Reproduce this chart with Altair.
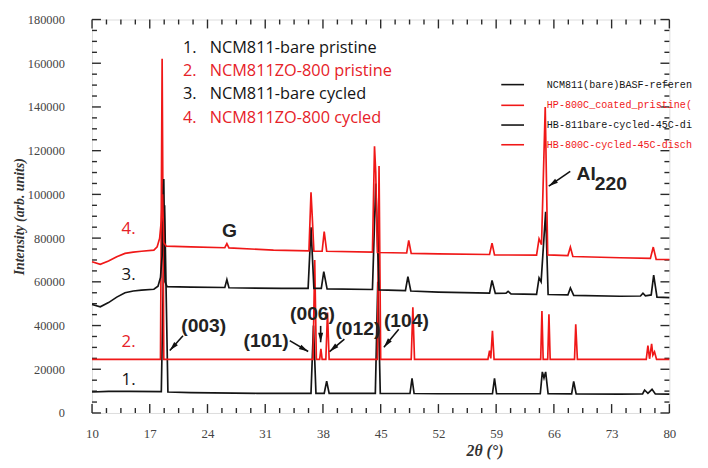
import altair as alt
import pandas as pd

BLACK = "#141414"
RED = "#f01818"
RED_TXT = "#e62128"
FRAME = "#2a2a2a"

x_ticks = [10, 17, 24, 31, 38, 45, 52, 59, 66, 73, 80]
y_ticks = [0, 20000, 40000, 60000, 80000, 100000, 120000, 140000, 160000, 180000]

# 1. NCM811-bare pristine
s1_x = [10, 12, 14.5, 18.4, 18.8, 19.2, 22, 30, 36.55, 36.85, 37.15, 38.15, 38.45, 38.75,
        44.35, 44.65, 44.95, 48.55, 48.8, 49.05, 52, 58.55, 58.8, 59.05, 64.35, 64.6, 64.8,
        65.0, 65.3, 68.15, 68.4, 68.7, 74, 76.75, 77.0, 77.4, 77.9, 78.3, 80]
s1_y = [9600, 9900, 9900, 9800, 95000, 9600, 9300, 9000, 9000, 40000, 9000, 9000, 14500, 9000,
        9000, 60000, 9000, 8900, 15800, 8900, 8800, 8800, 15800, 8800, 8800, 18800, 16000,
        18800, 8800, 8700, 14400, 8700, 8600, 8700, 10500, 9000, 10800, 8700, 8600]

# 2. NCM811ZO-800 pristine
s2_x = [10, 18.3, 18.5, 18.7, 36.8, 37.0, 37.2, 37.6, 37.75, 37.9, 38.35, 38.55, 38.75,
        44.6, 44.8, 45.0, 48.7, 48.9, 49.1, 58.0, 58.2, 58.35, 58.55, 58.75, 64.4, 64.55, 64.7,
        65.25, 65.4, 65.55, 68.5, 68.65, 68.85, 77.2, 77.4, 77.6, 77.85, 78.0, 78.2, 78.45, 80]
s2_y = [24500, 24500, 162000, 24500, 24500, 70000, 24500, 24500, 29300, 24500, 24500, 46000, 24500,
        24500, 113000, 24500, 24500, 48300, 24500, 24500, 28500, 25000, 37600, 24500, 24500, 46600, 24500,
        24500, 45100, 24500, 24500, 40600, 24500, 24500, 30800, 24800, 31600, 26500, 28000, 24500, 24500]

# 3. NCM811-bare cycled
s3_x = [10, 11, 12, 13, 14, 15, 16, 17.5, 18.0, 18.3, 18.5, 18.7, 18.85, 19.1, 22, 26.1, 26.35,
        26.6, 33, 36.2, 36.55, 36.9, 37.8, 38.1, 38.5, 44.0, 44.4, 44.8, 48.0, 48.3, 48.65, 52,
        58.2, 58.5, 58.9, 60.2, 60.45, 60.8, 63.9, 64.2, 64.45, 65.0, 65.3, 67.7, 68.0, 68.4, 74,
        76.5, 76.8, 77.1, 77.8, 78.1, 78.5, 80]
s3_y = [49600, 48600, 50500, 53000, 55000, 55800, 56200, 56600, 58000, 62000, 72000, 107000, 60000,
        57800, 57600, 57400, 61000, 57300, 57000, 57000, 85000, 57000, 57000, 64700, 56800, 56500,
        105000, 56300, 56000, 62400, 55800, 55300, 54800, 60600, 54700, 54800, 55600, 54500, 54300,
        61800, 60000, 92000, 54200, 54000, 57200, 53800, 53400, 53500, 54800, 53600, 54000, 63100,
        53000, 52800]

# 4. NCM811ZO-800 cycled
s4_x = [10, 11, 12, 13, 14, 15, 16, 17.5, 17.9, 18.2, 18.4, 18.55, 18.7, 19.0, 22, 26.1, 26.35,
        26.6, 32, 36.3, 36.55, 36.7, 36.9, 37.9, 38.15, 38.45, 44.0, 44.25, 44.4, 44.6, 48.15, 48.4,
        48.7, 52, 58.2, 58.5, 58.8, 63.9, 64.2, 64.5, 64.95, 65.25, 67.7, 68.0, 68.3, 74, 77.7,
        78.05, 78.4, 80]
s4_y = [69200, 68000, 69500, 71500, 73000, 73600, 74000, 74500, 76000, 80000, 88000, 100000, 78000,
        76300, 76000, 75600, 77500, 75500, 74500, 74200, 101000, 90000, 74000, 74000, 83000, 74000,
        73600, 122000, 110000, 73400, 73200, 79000, 73000, 72800, 72500, 77700, 72300, 72200, 79700,
        77000, 140000, 72300, 72000, 75900, 71600, 71000, 70700, 75900, 70300, 70200]

series = [(s1_x, s1_y, BLACK), (s2_x, s2_y, RED), (s3_x, s3_y, BLACK), (s4_x, s4_y, RED)]

# annotations (data coordinates)
miller_text = ["(003)", "(101)", "(006)", "(012)", "(104)", "G"]
miller_x = [23.54, 31.10, 36.73, 42.24, 48.12, 26.66]
miller_y = [39700, 33070, 45110, 38350, 42090, 83010]

al_text = ["Al", "220"]
al_x = [68.75, 70.95]
al_y = [109170, 104900]

arrow_x = [21.03, 33.97, 37.72, 40.60, 47.19, 67.98]
arrow_y = [35320, 33070, 39830, 33830, 38350, 110530]
arrow_tip_x = [19.43, 36.21, 37.72, 38.80, 45.39, 65.38]
arrow_tip_y = [28560, 28110, 32350, 28110, 30090, 103760]
arrow_angle = [221.6, 120.5, 180, 229.7, 219.3, 235.3]

num_text = ["1.", "2.", "3.", "4."]
num_x = [14.43, 14.43, 14.43, 14.43]
num_y = [15020, 32350, 63160, 84360]
num_color = [BLACK, RED_TXT, BLACK, RED_TXT]

legend_names = ["NCM811-bare pristine", "NCM811ZO-800 pristine",
                "NCM811-bare cycled", "NCM811ZO-800 cycled"]
legend_num_x = 21.03
legend_name_x = 24.26
legend_y = [166920, 156540, 145720, 134890]

# file names as far as they are visible in the original picture
file_names = ["NCM811(bare)BASF-referen", "HP-800C_coated_pristine(",
              "HB-811bare-cycled-45C-di", "HB-800C-cycled-45C-disch"]
file_line_x = [59.62, 62.38]
file_text_x = 65.14
file_y = [150220, 140750, 131730, 122710]

W, H = 584, 398

xs = alt.Scale(domain=[10, 80], nice=False, zero=False)
ys = alt.Scale(domain=[0, 180000], nice=False, zero=False)

axis_x = alt.Axis(values=x_ticks, ticks=False, domain=False, grid=False,
                  labelFont="Liberation Serif", labelFontSize=13, labelColor="#444",
                  labelPadding=15, labelFlush=False, labelOverlap=False,
                  title="2θ (°)", titleFont="Liberation Serif", titleFontSize=16,
                  titleFontStyle="italic", titleFontWeight="bold", titleColor="#333",
                  titleX=397, titleY=38, titleAlign="center", titleBaseline="middle")
axis_y = alt.Axis(values=y_ticks, ticks=False, domain=False, grid=False, format="d",
                  labelFont="Liberation Serif", labelFontSize=12.5, labelColor="#444",
                  labelPadding=28, labelFlush=False, labelOverlap=False,
                  title="Intensity (arb. units)", titleFont="Liberation Serif", titleFontSize=14,
                  titleFontStyle="italic", titleFontWeight="bold", titleColor="#333",
                  titleX=-73, titleY=199, titleAngle=270, titleAlign="center",
                  titleBaseline="middle")

X = lambda f="x": alt.X(f"{f}:Q", scale=xs, axis=axis_x)
Y = lambda f="y": alt.Y(f"{f}:Q", scale=ys, axis=axis_y)

layers = []

# ticks (inward, on all four sides)
xmaj = pd.DataFrame({"x": x_ticks})
xmin = pd.DataFrame({"x": [t + k * 1.75 for t in x_ticks[:-1] for k in (1, 2, 3)]})
ymaj = pd.DataFrame({"y": y_ticks})
ymin = pd.DataFrame({"y": [t + k * 5000 for t in y_ticks[:-1] for k in (1, 2, 3)]})
for df, ln in ((xmaj, 9), (xmin, 5)):
    layers.append(alt.Chart(df).mark_rule(color=FRAME, strokeWidth=1.4).encode(
        x=X(), y=alt.value(H), y2=alt.value(H - ln)))
    layers.append(alt.Chart(df).mark_rule(color=FRAME, strokeWidth=1.4).encode(
        x=X(), y=alt.value(0), y2=alt.value(ln)))
for df, ln in ((ymaj, 9), (ymin, 5)):
    layers.append(alt.Chart(df).mark_rule(color=FRAME, strokeWidth=1.4).encode(
        y=Y(), x=alt.value(0), x2=alt.value(ln)))
    layers.append(alt.Chart(df).mark_rule(color=FRAME, strokeWidth=1.4).encode(
        y=Y(), x=alt.value(W), x2=alt.value(W - ln)))

# patterns
for sx, sy, col in series:
    df = pd.DataFrame({"x": sx, "y": sy})
    layers.append(alt.Chart(df).mark_line(color=col, strokeWidth=1.7).encode(x=X(), y=Y()))

# top-left legend
leg = pd.DataFrame({"x": [legend_num_x] * 4, "x2": [legend_name_x] * 4, "y": legend_y,
                    "n": num_text, "t": legend_names, "c": num_color})
layers.append(alt.Chart(leg).mark_text(align="left", baseline="middle", font="Open Sans",
                                       fontSize=16.5).encode(
    x=X(), y=Y(), text="n:N", color=alt.Color("c:N", scale=None)))
layers.append(alt.Chart(leg).mark_text(align="left", baseline="middle", font="Open Sans",
                                       fontSize=16.5).encode(
    x=X("x2"), y=Y(), text="t:N", color=alt.Color("c:N", scale=None)))

# right legend (file names)
fl = pd.DataFrame({"x": [file_line_x[0]] * 4, "x2": [file_line_x[1]] * 4,
                   "xt": [file_text_x] * 4, "y": file_y, "t": file_names,
                   "c": [BLACK, RED, BLACK, RED]})
layers.append(alt.Chart(fl).mark_rule(strokeWidth=1.6).encode(
    x=X(), x2="x2:Q", y=Y(), color=alt.Color("c:N", scale=None)))
layers.append(alt.Chart(fl).mark_text(align="left", baseline="middle", font="Liberation Mono",
                                      fontSize=10.2).encode(
    x=X("xt"), y=Y(), text="t:N", color=alt.Color("c:N", scale=None)))

# series numbers
nums = pd.DataFrame({"x": num_x, "y": num_y, "t": num_text, "c": num_color})
layers.append(alt.Chart(nums).mark_text(align="center", baseline="middle", font="Open Sans",
                                        fontSize=17).encode(
    x=X(), y=Y(), text="t:N", color=alt.Color("c:N", scale=None)))

# arrows
arr = pd.DataFrame({"x": arrow_x, "y": arrow_y, "xt": arrow_tip_x, "yt": arrow_tip_y,
                    "a": arrow_angle})
layers.append(alt.Chart(arr).mark_rule(color="#111", strokeWidth=1.6).encode(
    x=X(), y=Y(), x2="xt:Q", y2="yt:Q"))
layers.append(alt.Chart(arr).mark_point(shape="M0,0 L0.5,1.9 L-0.5,1.9 Z", filled=True,
                                        size=100, color="#111", opacity=1, strokeWidth=0).encode(
    x=X("xt"), y=Y("yt"), angle=alt.Angle("a:Q", scale=None)))

# Miller indices and labels
mil = pd.DataFrame({"x": miller_x, "y": miller_y, "t": miller_text})
layers.append(alt.Chart(mil).mark_text(align="center", baseline="middle", font="Liberation Sans",
                                       fontSize=19.5, fontWeight="bold", color="#222").encode(
    x=X(), y=Y(), text="t:N"))
al = pd.DataFrame({"x": al_x, "y": al_y, "t": al_text})
layers.append(alt.Chart(al).mark_text(align="left", baseline="middle", font="Liberation Sans",
                                      fontSize=19.5, fontWeight="bold", color="#222").encode(
    x=X(), y=Y(), text="t:N"))

chart = alt.layer(*layers).properties(
    width=W, height=H, autosize="none",
    padding={"left": 85, "top": 9, "right": 31, "bottom": 53},
).configure_view(stroke=FRAME, strokeWidth=2).configure(background="white")

chart.save("out.html", embed_options={"renderer": "svg", "actions": False})
